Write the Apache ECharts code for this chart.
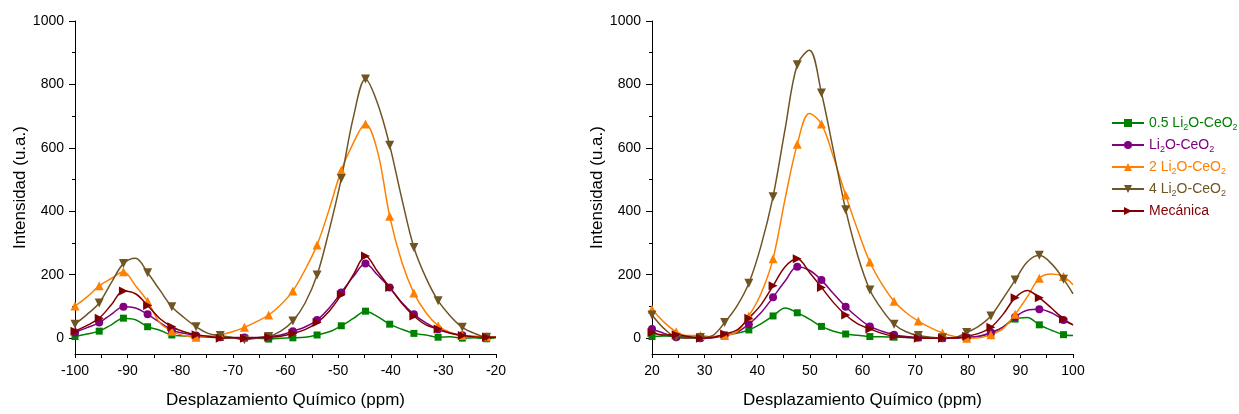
<!DOCTYPE html>
<html><head><meta charset="utf-8">
<script src="https://cdn.jsdelivr.net/npm/echarts@6/dist/echarts.min.js"></script>
<style>html,body{margin:0;padding:0;background:#fff}#c{width:1239px;height:414px}</style>
</head><body><div id="c"></div>
<script>
// chemical shift sample positions (ppm)
const xLeft = [-100, -97.7, -95.4, -93.1, -90.8, -88.5, -86.2, -83.9, -81.6, -79.3, -77.0, -74.7, -72.4, -70.1, -67.8, -65.5, -63.2, -60.9, -58.6, -56.3, -54.0, -51.7, -49.4, -47.1, -44.8, -42.5, -40.2, -37.9, -35.6, -33.3, -31.0, -28.7, -26.4, -24.1, -21.8, -20];
const xRight = [20, 22.3, 24.6, 26.9, 29.2, 31.5, 33.8, 36.1, 38.4, 40.7, 43.0, 45.3, 47.6, 49.9, 52.2, 54.5, 56.8, 59.1, 61.4, 63.7, 66.0, 68.3, 70.6, 72.9, 75.2, 77.5, 79.8, 82.1, 84.4, 86.7, 89.0, 91.3, 93.6, 95.9, 98.2, 100];

// left panel intensities
const left05 = [5,13,22,42,63,58,36,25,10,7,5,3,2,1,0,0,-3,0,1,3,10,20,39,62,85,68,44,28,15,10,3,4,0,1,-2,2];
const left1  = [18,33,49,75,99,95,75,50,25,15,8,5,3,2,2,2,5,10,22,35,57,95,144,194,235,199,160,112,75,48,28,15,9,5,3,3];
const left2  = [101,130,165,188,209,165,116,49,22,8,3,5,10,20,34,52,73,105,149,215,294,406,529,616,675,588,384,240,142,80,39,18,8,5,4,4];
const left4  = [44,75,111,175,235,252,206,152,99,65,36,15,8,2,-5,0,5,22,54,110,199,340,503,697,817,740,608,440,286,190,118,70,34,15,3,2];
const leftMec= [22,40,63,105,149,140,103,62,36,20,11,6,0,1,0,1,3,6,15,27,49,85,137,200,259,210,160,110,70,42,29,16,8,4,3,3];

// right panel intensities
const right05 = [5,7,5,3,5,4,10,15,26,45,70,95,80,60,37,22,13,9,5,4,3,2,1,0,0,0,2,5,15,35,60,65,42,25,11,8];
const right1  = [29,15,3,2,0,1,8,18,44,80,129,180,225,214,183,140,99,65,37,22,11,5,2,1,0,0,2,6,18,35,67,88,91,80,57,42];
const right2  = [91,50,20,8,8,4,8,20,70,140,250,440,611,708,675,570,451,340,240,170,116,80,54,33,16,5,0,1,11,30,75,130,189,202,194,168];
const right4  = [73,30,3,0,2,8,49,100,173,290,446,660,862,908,773,590,405,260,152,90,44,20,8,3,1,2,18,38,70,125,183,240,261,235,186,140];
const rightMec= [18,10,11,5,0,2,13,25,63,105,165,225,250,208,160,112,73,45,29,15,6,3,0,0,0,1,6,15,34,75,127,150,127,95,60,42];

const names = ['0.5 Li2O-CeO2','Li2O-CeO2','2 Li2O-CeO2','4 Li2O-CeO2','Mecánica'];
const yTickLabels = [0,200,400,600,800,1000];
const yMinorTicks = [100,300,500,700,900];

const colors = ['#008000','#800080','#FF8000','#6F5424','#800000'];
const symbols = ['rect','circle','triangle','triangle','triangle'];
const rotations = [0,0,0,180,-90];
const sizes = [7,8,9,9,9];
const FONT = 'Liberation Sans, Arial, sans-serif';

const leftSets = [left05,left1,left2,left4,leftMec];
const rightSets = [right05,right1,right2,right4,rightMec];

function mk(g, xs, ys, i) {
  return {
    name: names[i], type: 'line', xAxisIndex: g, yAxisIndex: g*2,
    data: xs.map((x,k)=>[x, ys[k]]),
    smooth: 0.35,
    symbol: symbols[i], symbolRotate: rotations[i],
    symbolSize: (v, p) => (p.dataIndex % 2 === 0 && p.dataIndex < 35) ? sizes[i] : 0,
    showAllSymbol: true,
    lineStyle: {color: colors[i], width: 1.5},
    itemStyle: {color: colors[i]},
    emphasis: {disabled: true}
  };
}

function yAxes(g) {
  return [{
    gridIndex: g, type: 'value', min: -50, max: 1000, position: 'left',
    name: 'Intensidad (u.a.)', nameLocation: 'middle', nameGap: 44,
    nameTextStyle: {fontSize: 17, color: '#000', fontFamily: FONT},
    axisLine: {show: true, onZero: false, lineStyle: {color: '#000', width: 1}},
    axisTick: {show: true, length: 6, customValues: yTickLabels, lineStyle: {color: '#000'}},
    axisLabel: {customValues: yTickLabels, fontSize: 14, color: '#000', margin: 11, fontFamily: FONT,
                formatter: v => String(v)},
    splitLine: {show: false}
  }, {
    gridIndex: g, type: 'value', min: -50, max: 1000, position: 'left',
    axisLine: {show: false},
    axisTick: {show: true, length: 3, customValues: yMinorTicks, lineStyle: {color: '#000'}},
    axisLabel: {show: false},
    splitLine: {show: false}
  }];
}

function xAxis(g, mn, mx) {
  return {
    gridIndex: g, type: 'value', min: mn, max: mx, interval: 10,
    name: 'Desplazamiento Químico (ppm)', nameLocation: 'middle', nameGap: 38,
    nameTextStyle: {fontSize: 17, color: '#000', fontFamily: FONT},
    axisLine: {onZero: false, lineStyle: {color: '#000', width: 1}},
    axisTick: {length: 4, lineStyle: {color: '#000'}},
    minorTick: {show: true, splitNumber: 2, length: 4, lineStyle: {color: '#000'}},
    axisLabel: {fontSize: 14, color: '#000', margin: 10, fontFamily: FONT, formatter: v => String(v)},
    splitLine: {show: false}
  };
}

const rich = {};
colors.forEach((c,i)=>{ rich['t'+i] = {color: c, fontSize: 14, fontFamily: FONT, lineHeight: 18}; rich['s'+i] = {color: c, fontSize: 9, fontFamily: FONT, lineHeight: 10, verticalAlign: 'bottom'}; });

function fmt(name) {
  const i = names.indexOf(name);
  if (i === 4) return '{t4|' + name + '}';
  let out = '';
  const tokens = name.match(/Li2O|CeO2|[^LC]+|./g);
  tokens.forEach(tk => {
    if (tk === 'Li2O') out += '{t'+i+'|Li}{s'+i+'|2}{t'+i+'|O}';
    else if (tk === 'CeO2') out += '{t'+i+'|CeO}{s'+i+'|2}';
    else out += '{t'+i+'|' + tk + '}';
  });
  return out;
}

const series = [];
leftSets.forEach((d,i)=>series.push(mk(0, xLeft, d, i)));
rightSets.forEach((d,i)=>series.push(mk(1, xRight, d, i)));

const chart = echarts.init(document.getElementById('c'), null, {renderer: 'canvas'});
chart.setOption({
  animation: false,
  backgroundColor: '#fff',
  textStyle: {fontFamily: FONT},
  grid: [
    {left: 75, top: 21, width: 421, height: 340},
    {left: 652, top: 21, width: 421, height: 340}
  ],
  xAxis: [xAxis(0, -100, -20), xAxis(1, 20, 100)],
  yAxis: [...yAxes(0), ...yAxes(1)],
  legend: {
    orient: 'vertical', left: 1111, top: 116, padding: 0, itemWidth: 32, itemHeight: 10, itemGap: 6,
    data: names.map((n,i)=>({name: n, textStyle: {color: colors[i]}})),
    formatter: fmt,
    textStyle: {fontSize: 14, fontFamily: FONT, rich: rich},
    selectedMode: false
  },
  series: series
});
</script></body></html>
